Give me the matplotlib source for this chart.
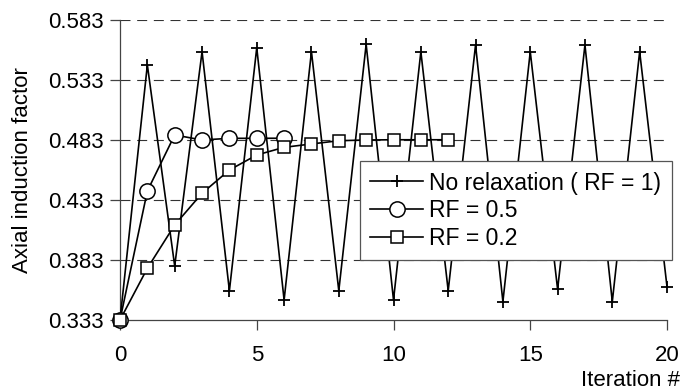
import matplotlib.pyplot as plt
import numpy as np

plt.rcParams['font.family'] = ['Liberation Sans', 'DejaVu Sans']

iter_full = list(range(0, 21))
no_relax = [0.333, 0.5455, 0.378, 0.5566, 0.3574, 0.5599, 0.3497, 0.5566, 0.3574,
            0.5627, 0.3497, 0.5566, 0.3574, 0.5622, 0.3483, 0.5566, 0.3586, 0.5622,
            0.3483, 0.5566, 0.3608]

iter_05 = list(range(0, 7))
rf_05 = [0.333, 0.4405, 0.4872, 0.4830, 0.4844, 0.4844, 0.4845]

iter_02 = list(range(0, 13))
rf_02 = [0.333, 0.3761, 0.4122, 0.4386, 0.4580, 0.4705, 0.4769, 0.4797, 0.4824,
         0.4830, 0.4832, 0.4832, 0.4832]

yticks = [0.333, 0.383, 0.433, 0.483, 0.533, 0.583]
xticks = [0, 5, 10, 15, 20]

fig = plt.figure(figsize=(6.82, 3.92), dpi=100)
ax = fig.add_axes([120/682, 72/392, 547/682, 300/392])

ax.plot(iter_full, no_relax, color='black', lw=1.2, marker='+', ms=8, mew=1.3,
        label='No relaxation ( RF = 1)', clip_on=False, zorder=3)
ax.plot(iter_05, rf_05, color='black', lw=1.2, marker='o', ms=11, mfc='white',
        mew=1.1, label='RF = 0.5', clip_on=False, zorder=4)
ax.plot(iter_02, rf_02, color='black', lw=1.2, marker='s', ms=9, mfc='white',
        mew=1.1, label='RF = 0.2', clip_on=False, zorder=5)

ax.set_xlim(0, 20)
ax.set_ylim(0.333, 0.583)
ax.set_xticks(xticks)
ax.set_yticks(yticks)
ax.set_yticklabels(['%.3f' % v for v in yticks])
ax.tick_params(axis='both', labelsize=16, length=7, width=0.9, color='#444444')
ax.tick_params(axis='x', pad=11)
ax.tick_params(axis='y', pad=5)

for v in yticks[1:]:
    ax.axhline(v, color='#333333', lw=0.8, ls=(0, (9, 6)), zorder=1)

for s in ['top', 'right']:
    ax.spines[s].set_visible(False)
for s in ['left', 'bottom']:
    ax.spines[s].set_color('#444444')
    ax.spines[s].set_linewidth(0.9)

ax.set_ylabel('Axial induction factor', fontsize=16, va='center')
ax.yaxis.set_label_coords(-0.179, 0.5)
ax.set_xlabel('Iteration #', fontsize=16, ha='right', va='center')
ax.xaxis.set_label_coords(1.024, -0.203)

leg = ax.legend(loc='lower left', bbox_to_anchor=(0.439, 0.2), fontsize=16.5,
                frameon=True, fancybox=False, framealpha=1, edgecolor='#555555',
                handlelength=2.3, labelspacing=0.2, borderpad=0.45,
                handletextpad=0.27, borderaxespad=0)
leg.get_frame().set_linewidth(0.9)
leg.set_zorder(10)

fig.savefig('out.png', dpi=100)
